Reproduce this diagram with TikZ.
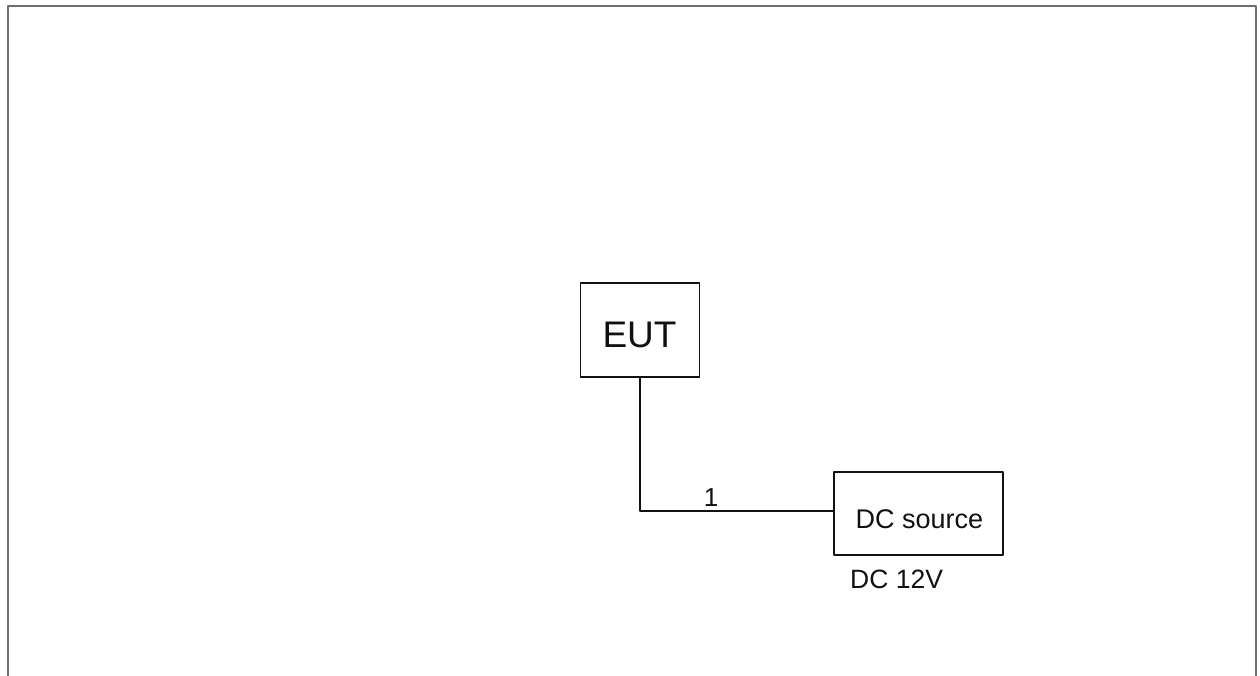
\documentclass[tikz,border=0pt]{standalone}
\usepackage{fontspec}
\setmainfont{Liberation Sans}
\usetikzlibrary{positioning}
\definecolor{ink}{HTML}{111111}
\definecolor{inkl}{HTML}{6E6E6E}
\tikzset{el/.style={line cap=round, line join=round},
  unitbox/.style={draw=ink, line width=1.4pt, inner sep=0pt},
  txt/.style={inner sep=0pt, anchor=base, text=ink}}

\begin{document}
\begin{tikzpicture}[el, x=1pt, y=-1pt]
  \useasboundingbox (0,0) rectangle (1260,675);
  \draw[inkl,line width=2.6pt,line cap=butt] (8,676)--(8,6)--(1256,6)--(1256,676);
  % units
  \node[unitbox, minimum width=119pt, minimum height=94pt] (eut) at (640,330) {};
  \node[unitbox, minimum width=169pt, minimum height=83pt] (dcs) at (918.5,513.5) {};
  \node[txt, font=\fontsize{37}{40}\selectfont] (eutname) at (639.5,347) {EUT};
  \node[txt, font=\fontsize{27}{30}\selectfont] (dcsname) at (919.5,528) {DC source};
  % cable
  \draw[ink,line width=1.4pt] (eut.south) |- ([yshift=2.5pt]dcs.west);
  \node[txt, font=\fontsize{26}{30}\selectfont] (cable) at (711,506) {1};
  \node[txt, font=\fontsize{26.5}{30}\selectfont, anchor=base west] (volt) at (850,588) {DC 12V};
\end{tikzpicture}
\end{document}
